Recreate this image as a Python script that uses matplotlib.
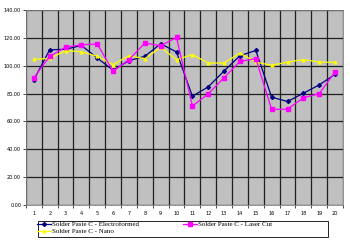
import numpy as np
import matplotlib
matplotlib.use('Agg')
import matplotlib.pyplot as plt
from matplotlib.ticker import FixedLocator, FormatStrFormatter
from matplotlib.patches import Rectangle

# data ==========================================================
samples = list(range(1, 21))
electroformed = [89.8, 111.4, 111.7, 114.5, 105.5, 96.7, 103.6, 106.7, 115.7, 109.8,
                 78.1, 84.8, 96.2, 107.1, 110.9, 77.4, 74.3, 80.2, 86.2, 93.8]
laser_cut = [91.2, 106.7, 113.3, 115.0, 115.5, 96.0, 104.3, 116.2, 114.3, 120.2,
             71.0, 79.8, 91.4, 103.1, 105.0, 68.6, 68.8, 76.9, 80.0, 95.5]
nano = [104.5, 105.2, 110.7, 110.0, 106.7, 100.7, 107.1, 105.0, 113.1, 104.3,
        107.9, 101.9, 101.9, 109.0, 102.6, 100.2, 102.6, 104.3, 102.6, 102.4]
labels = ['Solder Paste C - Electroformed', 'Solder Paste C - Nano', 'Solder Paste C - Laser Cut']

# plot ==========================================================
W, H = 350, 241
fig = plt.figure(figsize=(W / 100, H / 100), dpi=100)
ax = fig.add_axes([0.074, 0.149, 0.906, 0.81])
ax.set_facecolor('#c0c0c0')

x = np.array(samples)
l1, = ax.plot(x, electroformed, color='#000080', marker='D', markersize=2, lw=0.9)
l3, = ax.plot(x, nano, color='#ffff00', marker='^', markersize=2, lw=0.9)
l2, = ax.plot(x, laser_cut, color='#ff00ff', marker='s', markersize=2.5, lw=0.9)

ax.set_xlim(0.5, 20.5)
ax.set_ylim(0, 140)
ax.set_xticks(x)
ax.set_xticklabels([str(s) for s in samples])
ax.xaxis.set_minor_locator(FixedLocator(np.arange(0.5, 21, 1)))
ax.set_yticks(np.arange(0, 141, 20))
ax.yaxis.set_major_formatter(FormatStrFormatter('%.2f'))
ax.tick_params(axis='both', which='major', labelsize=3.5, length=2, width=0.5, pad=1.5)
ax.tick_params(axis='x', which='major', length=0, pad=4)
ax.tick_params(axis='x', which='minor', length=2, width=0.5)

ax.grid(axis='x', which='minor', color='#202020', lw=0.9)
ax.grid(axis='y', which='major', color='#202020', lw=0.9)
ax.set_axisbelow(True)
for s in ax.spines.values():
    s.set_color('#808080')
    s.set_linewidth(0.6)

# legend: box drawn separately so it can be wider than its entries
fig.patches.append(Rectangle((37.5 / W, 1 - 236.5 / H), (328 - 37.5) / W, 16 / H,
                             transform=fig.transFigure, facecolor='white',
                             edgecolor='black', lw=0.6, zorder=1))
leg = fig.legend([l1, l3, l2], labels, ncol=2, loc='upper left',
                 bbox_to_anchor=(37 / W, 1 - 221.5 / H),
                 prop={'family': 'Liberation Serif', 'size': 5},
                 frameon=False, borderpad=0, borderaxespad=0, labelspacing=0.15,
                 handlelength=2, handletextpad=0.15, columnspacing=6.3)
leg.set_zorder(2)

fig.savefig('out.png', dpi=100)
